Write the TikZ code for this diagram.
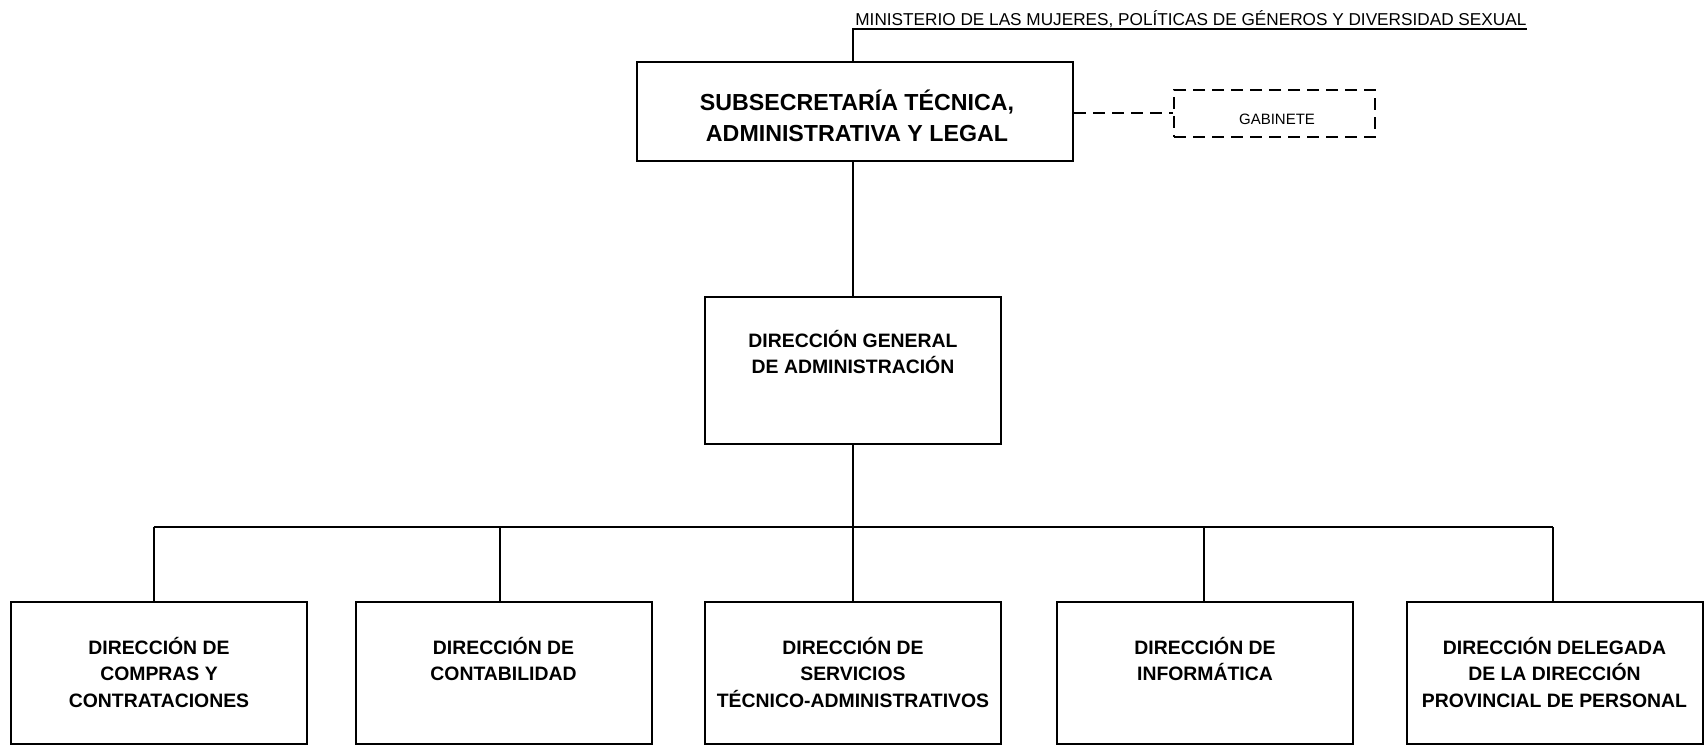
\documentclass[tikz,border=0pt]{standalone}
\usepackage{fontspec}
\setmainfont{Liberation Sans}
\begin{document}
\begin{tikzpicture}[x=0.5pt,y=-0.5pt,
  box/.style={draw,line width=1pt,rectangle,inner sep=0pt},
  dbox/.style={draw,line width=1pt,rectangle,inner sep=0pt,dash pattern=on 6pt off 3.5pt},
  conn/.style={line width=1pt},
  btext/.style={align=center,inner sep=0pt,font=\fontsize{9.7}{13.2}\selectfont\bfseries},
  bottombox/.style={box,minimum width=148pt,minimum height=71pt}]
\useasboundingbox (0,0) rectangle (1708,748);

% top title
\coordinate (ul) at (853,29.5);
\node[anchor=base west,inner sep=0pt,font=\fontsize{8.6}{10}\selectfont] (min) at (855,26) {MINISTERIO DE LAS MUJERES, POLÍTICAS DE GÉNEROS Y DIVERSIDAD SEXUAL};

% subsecretaria
\node[box,minimum width=218pt,minimum height=49.5pt] (sub) at (855,111.5) {};
\node[btext,font=\fontsize{11.6}{15.2}\selectfont\bfseries] (subt) at (857,116) {SUBSECRETARÍA TÉCNICA,\\ADMINISTRATIVA Y LEGAL};

% gabinete
\node[dbox,minimum width=100.5pt,minimum height=23.5pt] (gab) at (1274.5,113.5) {};
\node[inner sep=0pt,font=\fontsize{7.5}{9}\selectfont] (gabt) at (1277,119) {GABINETE};

% direccion general
\node[box,minimum width=148pt,minimum height=73.5pt] (dg) at (853,370.5) {};
\node[btext] (dgt) at (853,352) {DIRECCIÓN GENERAL\\DE ADMINISTRACIÓN};

% bottom boxes
\node[bottombox] (b1) at (159,673) {};
\node[bottombox] (b2) at (503.5,673) {};
\node[bottombox] (b3) at (853,673) {};
\node[bottombox] (b4) at (1205,673) {};
\node[bottombox] (b5) at (1554.5,673) {};

\node[btext,anchor=north] (t1) at (159,637) {DIRECCIÓN DE\\COMPRAS Y\\CONTRATACIONES};
\node[btext,anchor=north] (t2) at (503.5,637) {DIRECCIÓN DE\\CONTABILIDAD};
\node[btext,anchor=north] (t3) at (853,637) {DIRECCIÓN DE\\SERVICIOS\\TÉCNICO-ADMINISTRATIVOS};
\node[btext,anchor=north] (t4) at (1205,637) {DIRECCIÓN DE\\INFORMÁTICA};
\node[btext,anchor=north] (t5) at (1554.5,637) {DIRECCIÓN DELEGADA\\DE LA DIRECCIÓN\\PROVINCIAL DE PERSONAL};

% connectors
\draw[conn] (ul |- sub.north) -- (ul) -- (ul -| min.east);
\draw[conn,dash pattern=on 6pt off 3.5pt] (sub.east |- gab.west) -- (gab.west);
\draw[conn] (dg.north |- sub.south) -- (dg.north);
\coordinate (bus) at (853,527);
\coordinate (v1) at ([xshift=-2.7pt]b1.north);
\coordinate (v2) at ([xshift=-1.7pt]b2.north);
\coordinate (v3) at (b3.north);
\coordinate (v4) at ([xshift=-0.6pt]b4.north);
\coordinate (v5) at ([xshift=-0.6pt]b5.north);
\draw[conn] (dg.south) -- (bus);
\draw[conn] (v1 |- bus) -- (v5 |- bus);
\foreach \v in {v1,v2,v3,v4,v5} {\draw[conn] (\v) -- (\v |- bus);}
\end{tikzpicture}
\end{document}
